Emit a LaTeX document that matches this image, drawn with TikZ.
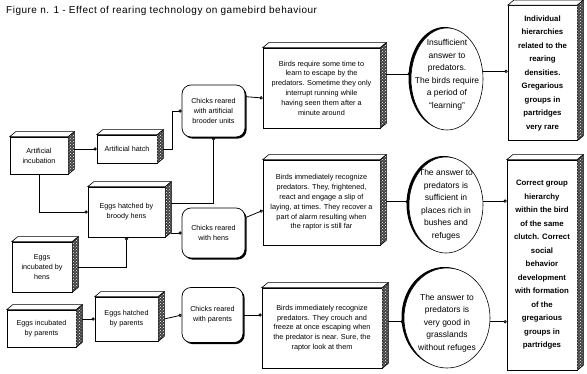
\documentclass[tikz,border=0pt]{standalone}
\usepackage{fontspec}
\setmainfont{Liberation Sans}
\usetikzlibrary{calc,backgrounds,shapes.geometric,arrows.meta,shadows,patterns}
\newcommand\mkcube[1]{%
  \draw[line width=0.6pt, fill=white] (#1.north west) -- ++(6,-5) -- ($(#1.north east)+(6,-5)$) -- (#1.north east) -- cycle;
  \fill[black!75] (#1.north east) -- ($(#1.north east)+(6,-5)$) -- ($(#1.south east)+(6,-5)$) -- (#1.south east) -- cycle;
  \fill[pattern=crosshatch dots, pattern color=white] (#1.north east) -- ($(#1.north east)+(6,-5)$) -- ($(#1.south east)+(6,-5)$) -- (#1.south east) -- cycle;
  \draw[line width=0.6pt] (#1.north east) -- ($(#1.north east)+(6,-5)$) -- ($(#1.south east)+(6,-5)$) -- (#1.south east);
  \coordinate (#1E) at ($(#1.east)+(6,0)$);
}
\begin{document}
\begin{tikzpicture}[x=1pt,y=-1pt,
  box/.style={draw, line width=0.6pt, fill=white, inner sep=1pt, align=center, font=\fontsize{7.2}{10}\selectfont},
  tbox/.style={box, font=\fontsize{7.3}{9.8}\selectfont},
  rbox/.style={box, font=\bfseries\fontsize{7.8}{13.5}\selectfont},
  chick/.style={draw, line width=0.7pt, fill=white, rounded corners=9pt, inner sep=1pt, align=center, font=\fontsize{7.2}{10}\selectfont, drop shadow={shadow xshift=1.6pt, shadow yshift=-1.6pt, opacity=1, fill=black}},
  ell/.style={draw, ellipse, line width=0.6pt, fill=white, inner sep=0pt, drop shadow={shadow xshift=-2.5pt, shadow yshift=1pt, opacity=1, fill=black}},
  etext/.style={align=center, font=\fontsize{8.5}{12.5}\selectfont, inner sep=0pt},
  conn/.style={line width=0.8pt, -{Circle[open,length=3.2pt,fill=white]}},
  connr/.style={line width=0.8pt, {Circle[open,length=3.2pt,fill=white]}-},
]
\useasboundingbox (0,0) rectangle (587,374);
\begin{scope}[on background layer]
\fill[white] (0,0) rectangle (587,374);
\end{scope}

\node[anchor=base west, inner sep=0pt, font=\fontsize{10}{12}\selectfont\addfontfeatures{LetterSpace=5}] (title) at (6,14) {Figure n. 1 - Effect of rearing technology on gamebird behaviour};

% cube boxes
\node[box, minimum width=58, minimum height=37] (inc) at (39,155.5) {Artificial\\incubation};
\node[box, minimum width=60, minimum height=28] (hatch) at (127,149) {Artificial hatch};
\node[box, minimum width=77, minimum height=50] (broody) at (126.5,212) {Eggs hatched by\\broody hens};
\node[box, minimum width=60, minimum height=50] (henseggs) at (42,267) {Eggs\\incubated by\\hens};
\node[box, minimum width=69, minimum height=37] (pareggs) at (41.5,328.5) {Eggs incubated\\by parents};
\node[box, minimum width=63, minimum height=44] (parhatch) at (126.5,319) {Eggs hatched\\by parents};
\node[tbox, minimum width=117, minimum height=80] (tb1) at (321.5,88) {Birds require some time to\\learn to escape by the\\predators. Sometime they only\\interrupt running while\\having seen them after a\\minute around};
\node[tbox, minimum width=117, minimum height=85] (tb2) at (321.5,202.5) {Birds immediately recognize\\predators. They, frightened,\\react and engage a slip of\\laying, at times. They recover a\\part of alarm resulting when\\the raptor is still far};
\node[tbox, minimum width=120, minimum height=80] (tb3) at (322,328) {Birds immediately recognize\\predators. They crouch and\\freeze at once escaping when\\the predator is near. Sure, the\\raptor look at them};
\node[rbox, minimum width=69, minimum height=135] (rb1) at (542.5,73) {Individual\\hierarchies\\related to the\\rearing\\densities.\\Gregarious\\groups in\\partridges\\very rare};
\node[rbox, minimum width=70, minimum height=210] (rb2) at (542,265) {Correct group\\hierarchy\\within the bird\\of the same\\clutch. Correct\\social\\behavior\\development\\with formation\\of the\\gregarious\\groups in\\partridges};
\foreach \n in {inc,hatch,broody,henseggs,pareggs,parhatch,tb1,tb2,tb3,rb1,rb2} {\mkcube{\n}}

% rounded boxes
\node[chick, minimum width=63, minimum height=52] (chart) at (213.5,111) {Chicks reared\\with artificial\\brooder units};
\node[chick, minimum width=63, minimum height=50] (chhens) at (213.5,233) {Chicks reared\\with hens};
\node[chick, minimum width=61, minimum height=55] (chpar) at (212.5,315) {Chicks reared\\with parents};

% ellipses
\node[ell, minimum width=72, minimum height=102] (el1) at (447,79) {};
\node[etext] (el1t) at (447,75) {Insufficient\\answer to\\predators.\\The birds require\\a period of\\“learning”};
\node[ell, minimum width=74, minimum height=96] (el2) at (446,205) {};
\node[etext] (el2t) at (446,205) {The answer to\\predators is\\sufficient in\\places rich in\\bushes and\\refuges};
\node[ell, minimum width=86, minimum height=100] (el3) at (447,318) {};
\node[etext] (el3t) at (447,323) {The answer to\\predators is\\very good in\\grasslands\\without refuges};

\begin{scope}[on background layer]
\draw[conn] (incE |- hatch.west) -- (hatch.west);
\draw[conn] (hatchE) -- ++(9,0) |- (chart.west);
\draw[conn] (inc.south) |- (broody.west);
\draw[connr] (chart.south) |- ($(broodyE)+(0,-9)$);
\draw[conn] (chhens.west -| broodyE) -- (chhens.west);
\draw[connr] (broody.south) |- (henseggsE);
\draw[conn] (pareggsE |- parhatch.west) -- (parhatch.west);
\draw[conn] (parhatchE) -- (chpar.west);
\draw[conn] (chpar.east) -- (tb3.west |- chpar.east);
\draw[conn] ($(chhens.north east)+(0,10)$) -- ($(tb2.west)+(0,8)$);
\draw[conn] ($(chart.north east)+(0,12)$) -- ($(tb1.west)+(0,10)$);
\draw[conn] (el1.172 -| tb1E) -- (el1.172);
\draw[conn] (el2.175 -| tb2E) -- (el2.175);
\draw[conn] (el3.185 -| tb3E) -- (el3.185);
\draw[conn] (el1.12) -- (el1.12 -| rb1.west);
\draw[conn] (el2.6) -- (el2.6 -| rb2.west);
\draw[conn] (el3.-5) -- (el3.-5 -| rb2.west);
\end{scope}
\end{tikzpicture}
\end{document}
